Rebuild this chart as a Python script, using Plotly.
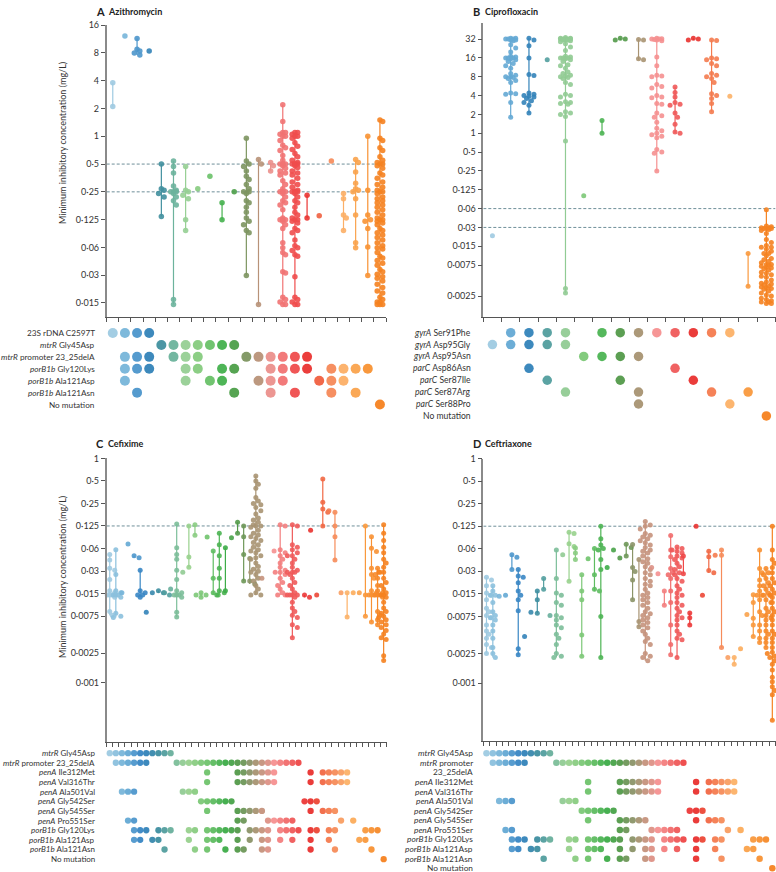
import math
import plotly.graph_objects as go

W, H = 776, 872

# ---------------- Panel A: azithromycin ----------------
A_TICK_VALS = [16, 8, 4, 2, 1, 0.5, 0.25, 0.125, 0.0625, 0.03125, 0.015625]
A_TICK_TEXT = ["16", "8", "4", "2", "1", "0·5", "0·25", "0·125", "0·06", "0·03", "0·015"]
A_BREAKPOINTS = [0.5, 0.25]
A_MIC = [
    [3.8, 2.1],
    [12.2],
    [11.5, 8.8, 8.4, 8.0, 7.6],
    [8.4],
    [0.5, 0.27, 0.26, 0.24, 0.22, 0.135],
    [0.54, 0.47, 0.4, 0.29, 0.26, 0.25, 0.25, 0.25, 0.24, 0.22, 0.2, 0.18, 0.017, 0.015],
    [0.47, 0.26, 0.25, 0.23, 0.21, 0.125, 0.095],
    [0.27],
    [0.37],
    [0.19, 0.125],
    [0.25],
    [0.95, 0.54, 0.5, 0.47, 0.42, 0.37, 0.34, 0.3, 0.27, 0.25, 0.25, 0.24, 0.2, 0.19, 0.17,
     0.15, 0.13, 0.12, 0.11, 0.095, 0.09, 0.031],
    [0.56, 0.5, 0.015],
    [0.52, 0.48, 0.42],
    [2.2, 1.45, 1.1, 1.1, 1.05, 1.0, 1.0, 0.9, 0.8, 0.75, 0.7, 0.62, 0.55, 0.5, 0.5, 0.5, 0.5,
     0.48, 0.45, 0.42, 0.4, 0.38, 0.33, 0.3, 0.27, 0.25, 0.25, 0.25, 0.25, 0.24, 0.22, 0.2,
     0.19, 0.18, 0.16, 0.13, 0.125, 0.125, 0.125, 0.12, 0.11, 0.1, 0.07, 0.062, 0.055, 0.052,
     0.034, 0.033, 0.018, 0.017, 0.016, 0.015, 0.015],
    [1.1, 1.1, 1.05, 1.0, 1.0, 0.95, 0.85, 0.78, 0.72, 0.65, 0.6, 0.55, 0.52, 0.5, 0.5, 0.5,
     0.5, 0.48, 0.46, 0.42, 0.4, 0.38, 0.35, 0.32, 0.3, 0.28, 0.26, 0.25, 0.25, 0.25, 0.25,
     0.24, 0.22, 0.2, 0.19, 0.17, 0.15, 0.14, 0.13, 0.125, 0.125, 0.12, 0.115, 0.1, 0.095,
     0.09, 0.075, 0.065, 0.062, 0.058, 0.052, 0.05, 0.03, 0.018, 0.017, 0.016, 0.015, 0.015],
    [0.23, 0.13],
    [0.138],
    [0.54],
    [0.24, 0.21, 0.14, 0.13, 0.095],
    [0.56, 0.52, 0.41, 0.31, 0.27, 0.26, 0.25, 0.21, 0.14, 0.07, 0.062],
    [1.0, 0.26, 0.14, 0.125, 0.12, 0.1, 0.063, 0.031],
    [1.5, 1.45, 0.95, 0.9, 0.75, 0.7, 0.6, 0.55, 0.52, 0.5, 0.5, 0.48, 0.45, 0.4, 0.38, 0.35,
     0.32, 0.3, 0.28, 0.26, 0.25, 0.25, 0.24, 0.22, 0.21, 0.2, 0.19, 0.18, 0.17, 0.16, 0.15,
     0.14, 0.13, 0.125, 0.125, 0.12, 0.115, 0.11, 0.1, 0.095, 0.09, 0.085, 0.08, 0.075, 0.07,
     0.065, 0.062, 0.06, 0.055, 0.05, 0.048, 0.045, 0.042, 0.04, 0.036, 0.034, 0.032, 0.03,
     0.029, 0.027, 0.025, 0.023, 0.021, 0.02, 0.018, 0.017, 0.016, 0.016, 0.015, 0.015, 0.015],
]
A_ROWS = ["23S rDNA C2597T", "<i>mtrR</i> Gly45Asp", "<i>mtrR</i> promoter 23_25delA",
          "<i>porB1b</i> Gly120Lys", "<i>porB1b</i> Ala121Asp", "<i>porB1b</i> Ala121Asn",
          "No mutation"]
A_MEMBERS = [
    [0, 1, 2, 3],
    [4, 5, 6, 7, 8, 9, 10],
    [1, 2, 3, 5, 6, 7, 11, 12, 13, 14, 15, 16],
    [1, 2, 3, 6, 7, 9, 10, 13, 14, 15, 16, 18, 19, 20, 21],
    [1, 6, 8, 9, 12, 13, 14, 17, 18, 19],
    [2, 10, 13, 15, 18, 20],
    [22],
]

# ---------------- Panel B: ciprofloxacin ----------------
B_TICK_VALS = [32, 16, 8, 4, 2, 1, 0.5, 0.25, 0.125, 0.0625, 0.03125, 0.015625, 0.0078125, 0.0025]
B_TICK_TEXT = ["32", "16", "8", "4", "2", "1", "0·5", "0·25", "0·125", "0·06", "0·03", "0·015",
               "0·0075", "0·0025"]
B_BREAKPOINTS = [0.0625, 0.03125]
B_MIC = [
    [0.023],
    [33, 33, 32, 32, 32, 31, 31, 30, 26, 23, 20, 17, 16.5, 16, 16, 16, 15.5, 15, 14, 13, 12,
     11, 9, 8.5, 8, 8, 7.8, 7.5, 7, 6.5, 4.4, 4.3, 4.2, 3.1, 1.8],
    [33, 31, 25, 16, 8.7, 8.4, 4.4, 4.2, 4.0, 3.9, 3.8, 3.6, 3.3, 3.1, 2.8, 2.1],
    [15],
    [34, 33, 33, 32, 32, 32, 32, 32, 32, 31, 31, 31, 30, 29, 27, 24, 21, 17, 16.5, 16, 16, 16,
     15.5, 15, 14, 12.5, 12, 11, 9.5, 9, 8.5, 8.2, 8, 7.8, 7.5, 6.5, 6, 4.2, 4, 3.8, 3.2, 3.1,
     3, 2.9, 2.2, 2.1, 2, 1.85, 0.75, 0.0033, 0.0028],
    [0.1],
    [1.6, 1.0],
    [33, 32, 31],
    [31.5, 31, 15.5, 15],
    [33, 32.5, 32, 32, 31.5, 31, 30, 16.5, 12, 8.5, 8.2, 8, 6, 5.6, 5.3, 4, 3.8, 3.7, 3, 2.9,
     2.1, 1.9, 1.8, 1.5, 1.2, 1.1, 1.0, 0.95, 0.9, 0.85, 0.55, 0.5, 0.48, 0.25],
    [5.5, 4.5, 3.8, 3.1, 2.9, 2.8, 2.1, 1.8, 1.4, 1.05, 1.0],
    [33, 32, 31],
    [31, 30.5, 16, 15.5, 15, 13, 12, 9, 8.5, 8, 7.5, 6.5, 4.3, 4.0, 3.6, 3.0, 2.2],
    [3.9],
    [0.012, 0.0036],
    [0.06, 0.033, 0.032, 0.031, 0.031, 0.03, 0.03, 0.03, 0.029, 0.028, 0.025, 0.02, 0.018,
     0.016, 0.015, 0.015, 0.014, 0.013, 0.012, 0.012, 0.011, 0.01, 0.0095, 0.009, 0.0085,
     0.008, 0.008, 0.0078, 0.0075, 0.0072, 0.007, 0.0068, 0.0065, 0.006, 0.0058, 0.0055,
     0.0052, 0.005, 0.0045, 0.0042, 0.004, 0.0039, 0.0038, 0.0036, 0.0035, 0.0034, 0.0033,
     0.0032, 0.003, 0.0028, 0.0026, 0.0025, 0.0023, 0.0022, 0.0021, 0.002, 0.002, 0.0019,
     0.0019],
]
B_ROWS = ["<i>gyrA</i> Ser91Phe", "<i>gyrA</i> Asp95Gly", "<i>gyrA</i> Asp95Asn",
          "<i>parC</i> Asp86Asn", "<i>parC</i> Ser87Ile", "<i>parC</i> Ser87Arg",
          "<i>parC</i> Ser88Pro", "No mutation"]
B_MEMBERS = [
    [1, 2, 3, 4, 6, 7, 8, 9, 10, 11, 12, 13],
    [0, 1, 2, 3, 4],
    [5, 6, 7, 8],
    [2, 10],
    [3, 7, 11],
    [4, 8, 12, 14],
    [8, 13],
    [15],
]

# ---------------- Panels C and D: cefixime, ceftriaxone ----------------
CD_TICK_VALS = [1, 0.5, 0.25, 0.125, 0.0625, 0.03125, 0.015625, 0.0078125, 0.0025, 0.001]
CD_TICK_TEXT = ["1", "0·5", "0·25", "0·125", "0·06", "0·03", "0·015", "0·0075", "0·0025", "0·001"]
CD_BREAKPOINTS = [0.125]
C_MIC = [
    [0.052, 0.044, 0.034, 0.032, 0.024, 0.017, 0.016, 0.016, 0.015, 0.015, 0.015, 0.014, 0.009, 0.008],
    [0.06, 0.028, 0.017, 0.016, 0.015, 0.015, 0.015, 0.014, 0.0085, 0.0078, 0.0075],
    [0.016],
    [0.072],
    [0.05, 0.047],
    [0.032, 0.017, 0.016, 0.015, 0.015, 0.014],
    [0.0088],
    [0.016],
    [0.017, 0.016],
    [0.016, 0.015],
    [0.018],
    [0.133, 0.064, 0.052, 0.045, 0.032, 0.024, 0.017, 0.016, 0.015, 0.015, 0.015, 0.014, 0.0088, 0.0076],
    [0.03],
    [0.125, 0.048, 0.035],
    [0.13, 0.094],
    [0.016, 0.015, 0.015, 0.014],
    [0.089],
    [0.058, 0.025, 0.016, 0.015],
    [0.1, 0.07, 0.05, 0.034, 0.025, 0.017, 0.016, 0.015],
    [0.064, 0.017],
    [0.087],
    [0.14, 0.1],
    [0.125, 0.09, 0.052, 0.023],
    [0.046, 0.023, 0.021],
    [0.58, 0.5, 0.45, 0.4, 0.3, 0.27, 0.25, 0.24, 0.22, 0.2, 0.18, 0.16, 0.15, 0.14, 0.13,
     0.125, 0.125, 0.12, 0.11, 0.1, 0.095, 0.09, 0.085, 0.08, 0.075, 0.07, 0.065, 0.06, 0.058,
     0.055, 0.05, 0.047, 0.045, 0.04, 0.036, 0.033, 0.031, 0.03, 0.028, 0.025, 0.023, 0.02,
     0.018, 0.016, 0.015, 0.015],
    [0.025],
    [],
    [0.058],
    [0.13, 0.125, 0.06, 0.055, 0.05, 0.045, 0.04, 0.035, 0.032, 0.03, 0.03, 0.028, 0.025,
     0.022, 0.02, 0.018, 0.016, 0.015, 0.015],
    [],
    [0.13, 0.125, 0.07, 0.065, 0.06, 0.055, 0.05, 0.05, 0.045, 0.04, 0.035, 0.032, 0.03, 0.03,
     0.03, 0.028, 0.025, 0.022, 0.02, 0.018, 0.016, 0.015, 0.015, 0.015, 0.015, 0.014, 0.012,
     0.01, 0.009, 0.008, 0.0075, 0.006, 0.0055, 0.004],
    [],
    [0.015, 0.014],
    [0.11],
    [0.015],
    [0.53, 0.26, 0.21, 0.19, 0.125],
    [0.2],
    [0.19, 0.125, 0.09, 0.044],
    [0.016],
    [0.016, 0.0076],
    [0.016],
    [0.016],
    [0.125, 0.015, 0.0078],
    [0.09, 0.063, 0.057, 0.034, 0.028, 0.025, 0.017, 0.016, 0.015, 0.015, 0.015, 0.0065],
    [0.034, 0.03, 0.028, 0.025, 0.02, 0.017, 0.016, 0.015, 0.015, 0.015, 0.014, 0.009, 0.008,
     0.007, 0.006],
    [0.13, 0.125, 0.1, 0.08, 0.065, 0.06, 0.055, 0.05, 0.045, 0.04, 0.035, 0.032, 0.03, 0.03,
     0.028, 0.025, 0.022, 0.02, 0.018, 0.016, 0.015, 0.015, 0.015, 0.014, 0.012, 0.011, 0.01,
     0.009, 0.0085, 0.008, 0.0078, 0.0075, 0.007, 0.0065, 0.006, 0.0055, 0.005, 0.0045,
     0.0042, 0.004, 0.0038, 0.0023, 0.0021, 0.002],
]
D_MIC = [
    [0.026, 0.024, 0.02, 0.016, 0.015, 0.015, 0.013, 0.01, 0.009, 0.008, 0.0075, 0.0075,
     0.006, 0.005, 0.0045, 0.004, 0.0033, 0.003, 0.0025],
    [0.02, 0.017, 0.015, 0.015, 0.012, 0.009, 0.008, 0.0075, 0.007, 0.006, 0.005, 0.004,
     0.003, 0.0025, 0.0022],
    [0.0145],
    [0.015],
    [0.052, 0.048, 0.033],
    [0.033, 0.027, 0.026, 0.022, 0.017, 0.015, 0.013, 0.0093, 0.0029, 0.0024],
    [0.0042],
    [0.0089],
    [0.017, 0.013, 0.0086],
    [0.025, 0.018],
    [0.008],
    [0.06, 0.025, 0.016, 0.015, 0.012, 0.011, 0.008, 0.0075, 0.007, 0.006, 0.0055, 0.0045,
     0.004, 0.0033, 0.0025, 0.0023, 0.0022],
    [0.052],
    [0.104, 0.1, 0.073, 0.067, 0.023],
    [0.064, 0.055, 0.045],
    [0.028, 0.017, 0.013, 0.0044, 0.0023],
    [0.046],
    [0.063, 0.028, 0.018, 0.017],
    [0.125, 0.085, 0.07, 0.063, 0.06, 0.045, 0.033, 0.0078, 0.0022],
    [0.035],
    [0.06],
    [0.047],
    [0.072, 0.065, 0.05],
    [0.071, 0.035, 0.031, 0.024, 0.013],
    [0.045, 0.0067, 0.0057],
    [0.144, 0.13, 0.125, 0.115, 0.1, 0.095, 0.09, 0.085, 0.08, 0.075, 0.07, 0.065, 0.06,
     0.058, 0.055, 0.05, 0.046, 0.042, 0.04, 0.036, 0.033, 0.03, 0.028, 0.025, 0.023, 0.021,
     0.02, 0.018, 0.016, 0.015, 0.014, 0.013, 0.012, 0.011, 0.01, 0.009, 0.0085, 0.008,
     0.0075, 0.007, 0.0065, 0.006, 0.0055, 0.005, 0.0045, 0.004, 0.0036, 0.0033, 0.0025,
     0.0023, 0.0022, 0.002],
    [0.035],
    [0.029],
    [0.017, 0.011],
    [0.094, 0.06, 0.049, 0.034, 0.03, 0.028, 0.025, 0.017, 0.012, 0.006, 0.0033, 0.0024],
    [0.066, 0.063, 0.06, 0.058, 0.055, 0.05, 0.047, 0.045, 0.04, 0.036, 0.033, 0.03, 0.028,
     0.025, 0.023, 0.02, 0.018, 0.016, 0.015, 0.014, 0.012, 0.011, 0.01, 0.009, 0.008,
     0.0075, 0.007, 0.006, 0.005, 0.0045, 0.004, 0.0038, 0.0022],
    [0.05, 0.029],
    [0.0087, 0.0075, 0.006],
    [0.125],
    [0.015],
    [0.058, 0.049, 0.032, 0.03],
    [0.051],
    [0.06, 0.051, 0.003],
    [0.0022],
    [0.0022, 0.0018],
    [0.0029],
    [0.0083],
    [0.0152, 0.012, 0.0074, 0.006, 0.0042],
    [0.06, 0.034, 0.03, 0.024, 0.02, 0.017, 0.015, 0.015, 0.013, 0.009, 0.008, 0.006, 0.005,
     0.004, 0.0035],
    [0.034, 0.03, 0.028, 0.025, 0.022, 0.02, 0.018, 0.016, 0.015, 0.015, 0.013, 0.012, 0.01,
     0.009, 0.008, 0.0075, 0.007, 0.006, 0.005, 0.0045, 0.004, 0.0035, 0.003],
    [0.125, 0.06, 0.055, 0.045, 0.04, 0.035, 0.03, 0.028, 0.025, 0.022, 0.02, 0.018, 0.016,
     0.015, 0.015, 0.014, 0.012, 0.011, 0.01, 0.009, 0.008, 0.0075, 0.007, 0.0065, 0.006,
     0.0055, 0.005, 0.0045, 0.004, 0.0038, 0.0035, 0.0032, 0.003, 0.0028, 0.0026, 0.0025,
     0.0023, 0.0022, 0.002, 0.0018, 0.0015, 0.0012, 0.00105, 0.001, 0.0009, 0.0008, 0.0007,
     0.00032],
]
C_ROWS = ["<i>mtrR</i> Gly45Asp", "<i>mtrR</i> promoter 23_25delA", "<i>penA</i> Ile312Met",
          "<i>penA</i> Val316Thr", "<i>penA</i> Ala501Val", "<i>penA</i> Gly542Ser",
          "<i>penA</i> Gly545Ser", "<i>penA</i> Pro551Ser", "<i>porB1b</i> Gly120Lys",
          "<i>porB1b</i> Ala121Asp", "<i>porB1b</i> Ala121Asn", "No mutation"]
D_ROWS = ["<i>mtrR</i> Gly45Asp", "<i>mtrR</i> promoter", "23_25delA", "<i>penA</i> Ile312Met",
          "<i>penA</i> Val316Thr", "<i>penA</i> Ala501Val", "<i>penA</i> Gly542Ser",
          "<i>penA</i> Gly545Ser", "<i>penA</i> Pro551Ser", "<i>porB1b</i> Gly120Lys",
          "<i>porB1b</i> Ala121Asp", "<i>porB1b</i> Ala121Asn", "No mutation"]
CD_MEMBERS = [
    list(range(0, 11)),
    [1, 2, 3, 4, 5, 6] + list(range(11, 32)),
    [16, 21, 22, 23, 24, 25, 26, 27, 33, 35, 36, 37, 38, 39],
    [16, 21, 22, 23, 24, 25, 26, 27, 33, 35, 36, 37, 38, 39],
    [2, 3, 4, 12, 13, 14],
    [15, 16, 17, 18, 19, 20, 32, 33, 34],
    [16, 21, 22, 23, 24, 25, 33, 35, 36, 37],
    [3, 4, 21, 22, 26, 27, 28, 29, 30, 38, 40],
    [4, 5, 6, 8, 9, 10, 13, 14, 16, 17, 18, 19, 20, 21, 23, 24, 25, 26, 28, 29, 30, 31, 33,
     34, 36, 37, 42, 43, 44],
    [4, 5, 7, 8, 13, 16, 17, 18, 21, 23, 25, 26, 28, 30, 33, 36, 41, 42],
    [9, 14, 16, 19, 21, 22, 25, 26, 33, 37, 43],
    [45],
]
C_ROW_SLOTS = list(range(12))
D_ROW_SLOTS = [0, 1, 3, 4, 5, 6, 7, 8, 9, 10, 11, 12]

# ---------------- styling ----------------
GRAD_POS = [0.0, 0.06, 0.12, 0.18, 0.23, 0.28, 0.36, 0.42, 0.47, 0.51, 0.555, 0.60, 0.65,
            0.70, 0.74, 0.78, 0.83, 0.87, 0.93, 1.0]
GRAD_RGB = [(158, 202, 225), (107, 174, 214), (47, 127, 193), (63, 143, 159), (111, 181, 156),
            (157, 211, 145), (108, 194, 106), (60, 173, 72), (85, 153, 74), (138, 148, 104),
            (196, 146, 124), (245, 144, 144), (240, 104, 104), (238, 61, 61), (232, 48, 44),
            (242, 107, 69), (247, 146, 94), (253, 180, 104), (249, 154, 62), (245, 130, 32)]
FONT = "Lato, 'Open Sans', sans-serif"


def grad(t):
    t = min(max(t, 0.0), 1.0)
    for i in range(len(GRAD_POS) - 1):
        if GRAD_POS[i] <= t <= GRAD_POS[i + 1]:
            f = (t - GRAD_POS[i]) / (GRAD_POS[i + 1] - GRAD_POS[i])
            c0, c1 = GRAD_RGB[i], GRAD_RGB[i + 1]
            return "rgb(%d,%d,%d)" % tuple(round(a + (b - a) * f) for a, b in zip(c0, c1))
    return "rgb(%d,%d,%d)" % GRAD_RGB[-1]


def swarm(vals, ppd, dia, maxoff):
    """Deterministic beeswarm offsets (pixels) for one column."""
    step = dia * 0.5
    cands = [0.0]
    j = 1
    while j * step <= maxoff + 1e-9:
        cands += [j * step, -j * step]
        j += 1
    order = sorted(range(len(vals)), key=lambda i: -vals[i])
    placed, offs = [], [0.0] * len(vals)
    for i in order:
        y = -math.log2(vals[i]) * ppd
        best, bestc, bestd = None, 0.0, -1
        for c in cands:
            d = min((math.hypot(c - px, y - py) for px, py in placed), default=1e9)
            if d >= dia * 0.85:
                best = c
                break
            if d > bestd:
                bestd, bestc = d, c
        if best is None:
            best = bestc
        placed.append((best, y))
        offs[i] = best
    return offs


PANELS = [
    dict(letter="A", name="Azithromycin", mic=A_MIC, tv=A_TICK_VALS, tt=A_TICK_TEXT,
         bp=A_BREAKPOINTS, rows=A_ROWS, slots=list(range(7)), members=A_MEMBERS,
         xdom=(106.7, 386.0), ydom=(19.3, 313.0), yr=(0.01105, 16.0),
         mdom=(323.3, 407.3), mrange=(6.5, -0.5), dot=5.5, mdot=10, maxoff=4.0,
         lab_font=8.2, gap=10, title_xy=(94, 6), ytitle=(62, 138)),
    dict(letter="B", name="Ciprofloxacin", mic=B_MIC, tv=B_TICK_VALS, tt=B_TICK_TEXT,
         bp=B_BREAKPOINTS, rows=B_ROWS, slots=list(range(8)), members=B_MEMBERS,
         xdom=(483.3, 775.5), ydom=(16.7, 313.3), yr=(0.00115, 58.8),
         mdom=(323.0, 418.7), mrange=(7.5, -0.5), dot=5, mdot=9.5, maxoff=6.5,
         lab_font=8.6, gap=10, title_xy=(471, 6), ytitle=None),
    dict(letter="C", name="Cefixime", mic=C_MIC, tv=CD_TICK_VALS, tt=CD_TICK_TEXT,
         bp=CD_BREAKPOINTS, rows=C_ROWS, slots=C_ROW_SLOTS, members=CD_MEMBERS,
         xdom=(106.7, 386.7), ydom=(455.5, 741.0), yr=(0.000163, 1.0),
         mdom=(747.45, 863.9), mrange=(11.5, -0.5), dot=5, mdot=6.3, maxoff=5.0,
         lab_font=8.0, gap=10, title_xy=(94, 441), ytitle=(62, 575)),
    dict(letter="D", name="Ceftriaxone", mic=D_MIC, tv=CD_TICK_VALS, tt=CD_TICK_TEXT,
         bp=CD_BREAKPOINTS, rows=D_ROWS, slots=list(range(13)), members=CD_MEMBERS,
         member_slots=D_ROW_SLOTS,
         xdom=(483.3, 775.5), ydom=(455.7, 740.0), yr=(0.00017, 1.0),
         mdom=(747.5, 872.0), mrange=(12.39, -0.5), dot=5, mdot=6.5, maxoff=5.0,
         lab_font=8.3, gap=8, title_xy=(471, 441), ytitle=None),
]

fig = go.Figure()
layout = dict(width=W, height=H, margin=dict(l=0, r=0, t=0, b=0), showlegend=False,
              plot_bgcolor="white", paper_bgcolor="white", hovermode=False,
              font=dict(family=FONT, color="#333"))
annotations = []


def tr(axis, i):
    return axis if i == 1 else f"{axis}{i}"


def lk(axis, i):
    return f"{axis}axis" if i == 1 else f"{axis}axis{i}"


for p, P in enumerate(PANELS):
    ia, im = 2 * p + 1, 2 * p + 2
    n = len(P["mic"])
    x0, x1 = P["xdom"]
    y0, y1 = P["ydom"]
    cw = (x1 - x0) / n
    lo, hi = P["yr"]
    ppd = (y1 - y0) / (math.log2(hi) - math.log2(lo))
    cols = [grad(k / (n - 1)) for k in range(n)]

    layout[lk("x", ia)] = dict(domain=[x0 / W, x1 / W], range=[-0.5, n - 0.5], anchor=tr("y", ia),
                               showline=True, linecolor="#555", linewidth=1, ticks="outside",
                               ticklen=4, tickwidth=1, tickcolor="#555",
                               tickvals=[k - 0.5 for k in range(n + 1)], showticklabels=False,
                               showgrid=False, zeroline=False, fixedrange=True)
    layout[lk("y", ia)] = dict(domain=[1 - y1 / H, 1 - y0 / H], type="log",
                               range=[math.log10(lo), math.log10(hi)], anchor=tr("x", ia),
                               showline=True, linecolor="#8a8a8a", linewidth=1.6, ticks="outside",
                               ticklen=4, tickwidth=1, tickcolor="#555", tickvals=P["tv"],
                               ticktext=P["tt"], tickfont=dict(size=9, color="#333", family=FONT),
                               showgrid=False, zeroline=False, fixedrange=True)
    m0, m1 = P["mdom"]
    layout[lk("x", im)] = dict(domain=[x0 / W, x1 / W], range=[-0.5, n - 0.5], anchor=tr("y", im),
                               visible=False, fixedrange=True)
    layout[lk("y", im)] = dict(domain=[max(0, 1 - m1 / H), 1 - m0 / H], range=list(P["mrange"]),
                               anchor=tr("x", im), visible=False, fixedrange=True)

    # breakpoint dashed lines
    for b in P["bp"]:
        fig.add_trace(go.Scatter(x=[-0.5, n - 0.5], y=[b, b], mode="lines",
                                 line=dict(color="#6f8f99", width=1, dash="3px,2px"),
                                 xaxis=tr("x", ia), yaxis=tr("y", ia), hoverinfo="skip"))

    # range lines
    for k, vals in enumerate(P["mic"]):
        if len(vals) > 1:
            fig.add_trace(go.Scatter(x=[k, k], y=[min(vals), max(vals)], mode="lines",
                                     line=dict(color=cols[k], width=1.2),
                                     xaxis=tr("x", ia), yaxis=tr("y", ia), hoverinfo="skip"))
    # points
    for k, vals in enumerate(P["mic"]):
        if not vals:
            continue
        offs = swarm(vals, ppd, P["dot"], P["maxoff"])
        fig.add_trace(go.Scatter(x=[k + o / cw for o in offs], y=vals, mode="markers",
                                 marker=dict(size=P["dot"], color=cols[k], opacity=0.9,
                                             line=dict(width=0)),
                                 cliponaxis=False, xaxis=tr("x", ia), yaxis=tr("y", ia),
                                 hoverinfo="skip"))

    # mutation matrix
    mslots = P.get("member_slots", list(range(len(P["members"]))))
    mx, my, mc = [], [], []
    for r, mem in enumerate(P["members"]):
        for k in mem:
            mx.append(k)
            my.append(mslots[r])
            mc.append(cols[k])
    fig.add_trace(go.Scatter(x=mx, y=my, mode="markers", cliponaxis=False,
                             marker=dict(size=P["mdot"], color=mc, opacity=0.95, line=dict(width=0)),
                             xaxis=tr("x", im), yaxis=tr("y", im), hoverinfo="skip"))
    for slot, label in zip(P["slots"], P["rows"]):
        annotations.append(dict(x=(x0 - P["gap"]) / W, xref="paper", y=slot, yref=tr("y", im),
                                text=label, showarrow=False, xanchor="right", yanchor="middle",
                                font=dict(size=P["lab_font"], color="#333", family=FONT)))

    # titles
    tx, ty = P["title_xy"]
    annotations.append(dict(x=tx / W, y=1 - ty / H, xref="paper", yref="paper", text="<b>%s</b>" % P["letter"],
                            showarrow=False, xanchor="left", yanchor="middle",
                            font=dict(size=11, color="#222", family=FONT)))
    annotations.append(dict(x=(tx + 12) / W, y=1 - ty / H, xref="paper", yref="paper",
                            text="<b>%s</b>" % P["name"], showarrow=False, xanchor="left",
                            yanchor="middle", font=dict(size=9, color="#222", family=FONT)))
    if P["ytitle"]:
        ax_, ay_ = P["ytitle"]
        annotations.append(dict(x=ax_ / W, y=1 - ay_ / H, xref="paper", yref="paper",
                                text="Minimum inhibitory concentration (mg/L)", textangle=-90,
                                showarrow=False, xanchor="center", yanchor="middle",
                                font=dict(size=9, color="#333", family=FONT)))

layout["annotations"] = annotations
fig.update_layout(**layout)

PIN_TO_CORNER = (
    "document.documentElement.style.overflow='hidden';"
    "document.body.style.margin='0';document.body.style.overflow='hidden';"
    "var gd=document.getElementById('{plot_id}');"
    "gd.style.position='absolute';gd.style.left='0px';gd.style.top='0px';"
)
fig.write_html("out.html", post_script=PIN_TO_CORNER, config={"displayModeBar": False})
